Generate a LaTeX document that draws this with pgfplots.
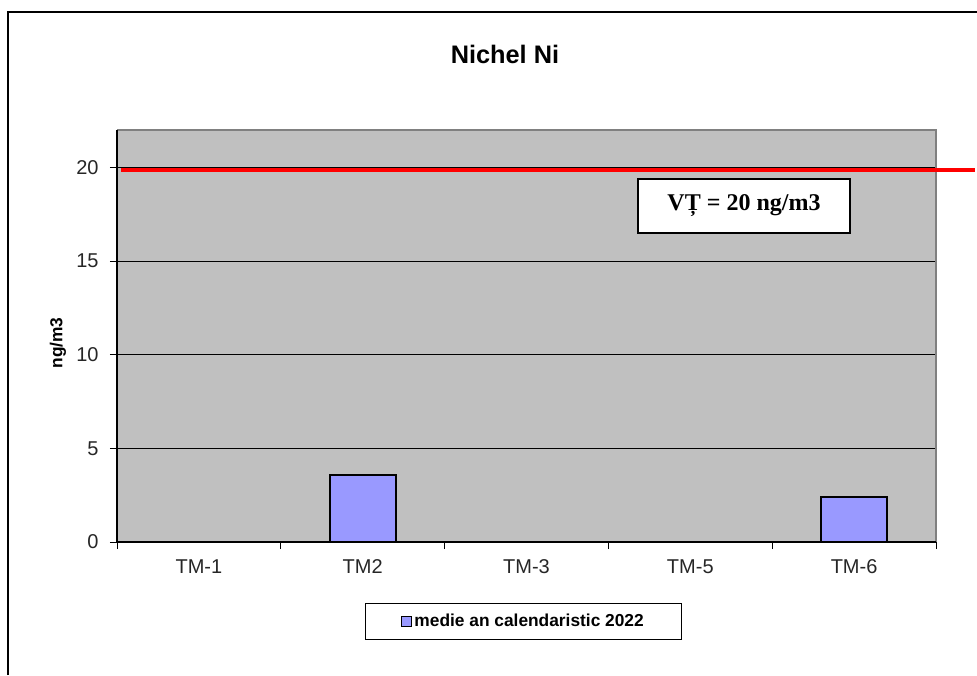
\documentclass[border=0pt]{standalone}
\usepackage{fontspec}
\setmainfont{Liberation Sans}
\newfontfamily\timesfont{Liberation Serif}
\usepackage{pgfplots}
\pgfplotsset{compat=1.18}
\definecolor{plotgray}{HTML}{C0C0C0}
\definecolor{barblue}{HTML}{9999FF}
\definecolor{framegray}{HTML}{808080}

\begin{document}
\begin{tikzpicture}
\useasboundingbox (0,0) rectangle (732.75pt,-506.25pt);
\begin{axis}[
  at={(87.75pt,-406.5pt)}, anchor=south west,
  scale only axis, width=614.25pt, height=309pt,
  xmin=-0.5, xmax=4.5, ymin=0, ymax=22,
  clip=false,
  axis background/.style={fill=plotgray},
  axis line style={draw=none},
  xtick={0,1,2,3,4},
  xticklabels={TM-1,TM2,TM-3,TM-5,TM-6},
  minor xtick={-0.5,0.5,1.5,2.5,3.5,4.5},
  ytick={0,5,10,15,20},
  tick pos=left, tick align=outside,
  major tick length=5.25pt, minor tick length=5.25pt,
  major x tick style={draw=none},
  tick style={black, line width=0.75pt},
  ymajorgrids, major grid style={black, line width=0.75pt},
  ticklabel style={font=\fontsize{15}{18}\selectfont, text=black!85},
  xticklabel style={yshift=-4.5pt},
  yticklabel style={xshift=-5pt},
  /pgf/number format/assume math mode=true,
  title={Nichel Ni},
  title style={at={(axis description cs:0.4737,1.165)}, anchor=center,
    font=\bfseries\fontsize{19}{23}\selectfont},
  ylabel={ng/m3},
  ylabel style={at={(axis description cs:-0.072,0.483)}, anchor=center,
    font=\bfseries\fontsize{13}{15}\selectfont},
  legend style={at={(axis description cs:0.4963,-0.193)}, anchor=center,
    draw=black, line width=0.75pt, inner xsep=27pt, inner ysep=6pt,
    font=\bfseries\fontsize{13}{15}\selectfont,
    nodes={inner xsep=1.5pt}},
  legend image code/.code={
    \draw[fill=barblue, line width=1pt] (0pt,-3.75pt) rectangle (7.5pt,3.75pt);},
]
  % axis frame: gray top/right, black left/bottom
  \draw[framegray, line width=1.5pt] (rel axis cs:0,1) -- (rel axis cs:1,1) -- (rel axis cs:1,0);
  \draw[black, line width=1.5pt] (rel axis cs:0,1) -- (rel axis cs:0,0) -- (rel axis cs:1,0);

  \addplot[ybar, bar width=49.5pt, fill=barblue, draw=black, line width=1.5pt]
    coordinates {(1,3.6) (4,2.4)};
  % limit value line
  \addplot[red, line width=2.8pt, forget plot]
    coordinates {(-0.476,19.85) (4.738,19.85)};
  \legend{medie an calendaristic 2022}
\end{axis}
\begin{scope}[x=0.75pt, y=-0.75pt]
  \draw[line width=1.5pt] (7.5,675) -- (7.5,12) -- (977,12);
  \node[draw=black, fill=white, line width=1.1pt, minimum width=159pt,
    minimum height=40.5pt, inner sep=0pt,
    font=\timesfont\bfseries\fontsize{18}{21}\selectfont] at (744,206) {VȚ = 20 ng/m3};
\end{scope}
\end{tikzpicture}
\end{document}
